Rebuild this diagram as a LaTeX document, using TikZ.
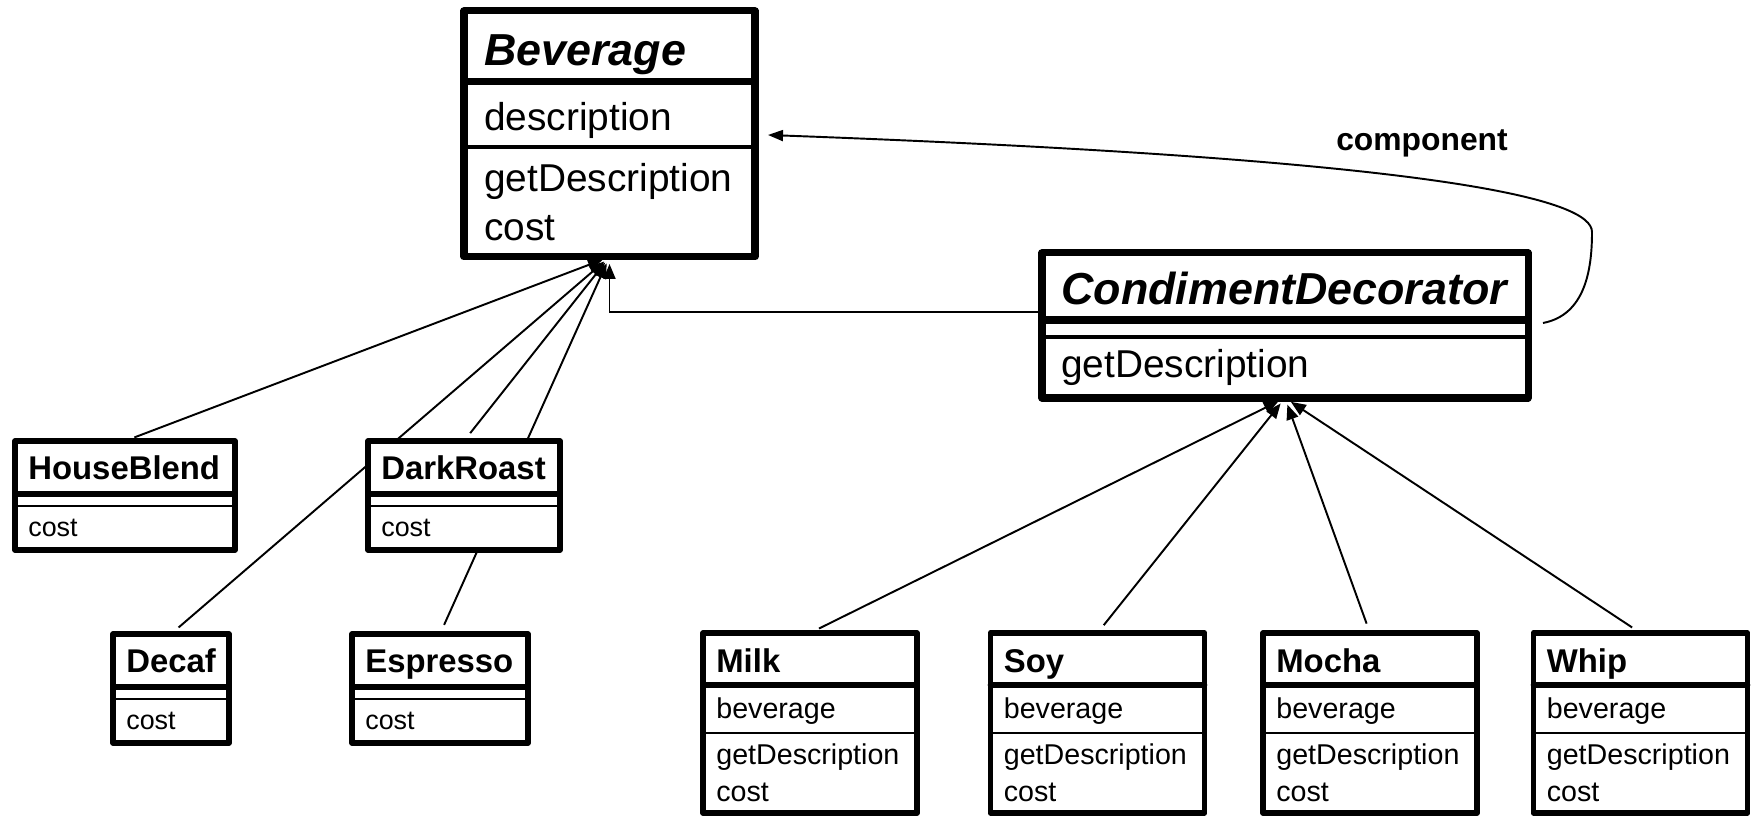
\documentclass[tikz,border=0pt]{standalone}
\usepackage{fontspec}
\setmainfont{Liberation Sans}
\usetikzlibrary{arrows.meta,backgrounds}

\begin{document}
\begin{tikzpicture}[line cap=round]
        % Styles
        \tikzstyle{big class}=[draw,fill=white,line width=4pt,line join=round,outer sep=0pt,anchor=north]
        \tikzstyle{small class}=[draw,fill=white,line width=3.2pt,line join=round,outer sep=0pt,anchor=north]
        \tikzstyle{big sep}=[line width=4pt]
        \tikzstyle{small sep}=[line width=3.2pt]
        \tikzstyle{thin sep}=[line width=1.8pt]
        \tikzstyle{small thin sep}=[line width=1.2pt]
        \tikzstyle{big name}=[anchor=base west,inner sep=0pt,font=\fontsize{25.5}{30}\selectfont\bfseries\itshape]
        \tikzstyle{big text}=[anchor=west,inner sep=0pt,align=left,font=\fontsize{22.1}{27.8}\selectfont]
        \tikzstyle{small name}=[anchor=base west,inner sep=0pt,font=\fontsize{18.7}{22}\selectfont\bfseries]
        \tikzstyle{small text}=[anchor=west,inner sep=0pt,align=left,font=\fontsize{16.3}{21}\selectfont]
        \tikzstyle{cost text}=[anchor=west,inner sep=0pt,font=\fontsize{15.3}{18}\selectfont]
        \tikzstyle{inherit}=[line width=1.1pt,-{Triangle[length=0.3cm,width=0.24cm]},shorten <=0.2cm,shorten >=0.14cm]
        \tikzstyle{assoc}=[line width=1.1pt,-{Triangle[length=0.3cm,width=0.22cm]}]
        \useasboundingbox (0,0) rectangle (35.12,16.32);
        %the component class
        \node[big class,minimum width=5.82cm,minimum height=4.92cm] (bev) at (12.19,16.10) {};
        \node[big name] (bev-name) at ([xshift=0.4cm,yshift=-1.10cm]bev.north west) {Beverage};
        \draw[big sep] ([yshift=-1.42cm]bev.north west) -- ([yshift=-1.42cm]bev.north east);
        \node[big text] (bev-attr) at ([xshift=0.4cm,yshift=-2.18cm]bev.north west) {description};
        \draw[thin sep] ([yshift=-2.72cm]bev.north west) -- ([yshift=-2.72cm]bev.north east);
        \node[big text] (bev-ops) at ([xshift=0.4cm,yshift=-3.82cm]bev.north west) {getDescription\\cost};
        %the decorator class
        \node[big class,minimum width=9.72cm,minimum height=2.90cm] (cd) at (25.70,11.26) {};
        \node[big name] (cd-name) at ([xshift=0.38cm,yshift=-1.03cm]cd.north west) {CondimentDecorator};
        \draw[big sep] ([yshift=-1.34cm]cd.north west) -- ([yshift=-1.34cm]cd.north east);
        \draw[thin sep] ([yshift=-1.68cm]cd.north west) -- ([yshift=-1.68cm]cd.north east);
        \node[big text] (cd-ops) at ([xshift=0.38cm,yshift=-2.29cm]cd.north west) {getDescription};
        %concrete components
        \foreach \n/\txt/\x/\y/\w in {hb/HouseBlend/2.50/7.50/4.40, dr/DarkRoast/9.28/7.50/3.84, dc/Decaf/3.42/3.64/2.32, es/Espresso/8.80/3.64/3.52}
        {
            \node[small class,minimum width=\w cm,minimum height=2.18cm] (\n) at (\x,\y) {};
            \node[small name] (\n-name) at ([xshift=0.26cm,yshift=-0.77cm]\n.north west) {\txt};
            \draw[small sep] ([yshift=-1.06cm]\n.north west) -- ([yshift=-1.06cm]\n.north east);
            \draw[small thin sep] ([yshift=-1.30cm]\n.north west) -- ([yshift=-1.30cm]\n.north east);
            \node[cost text] (\n-ops) at ([xshift=0.26cm,yshift=-1.74cm]\n.north west) {cost};
        }
        %concrete decorators
        \foreach \n/\txt/\x in {milk/Milk/16.20, soy/Soy/21.95, mocha/Mocha/27.40, whip/Whip/32.81}
        {
            \node[small class,minimum width=4.28cm,minimum height=3.60cm] (\n) at (\x,3.66) {};
            \node[small name] (\n-name) at ([xshift=0.26cm,yshift=-0.79cm]\n.north west) {\txt};
            \draw[small sep] ([yshift=-1.04cm]\n.north west) -- ([yshift=-1.04cm]\n.north east);
            \node[small text] (\n-attr) at ([xshift=0.26cm,yshift=-1.56cm]\n.north west) {beverage};
            \draw[small thin sep] ([yshift=-2.00cm]\n.north west) -- ([yshift=-2.00cm]\n.north east);
            \node[small text] (\n-ops) at ([xshift=0.26cm,yshift=-2.80cm]\n.north west) {getDescription\\cost};
        }
        \node[font=\fontsize{18.1}{22}\selectfont\bfseries] (comp-label) at (28.44,13.46) {component};
        %connectors
        \begin{scope}[on background layer]
            \foreach \n in {hb,dr,dc,es}
            \draw[inherit] (\n.north) -- (bev.south);
            \foreach \n in {milk,soy,mocha,whip}
            \draw[inherit] (\n.north) -- (cd.south);
            \draw[inherit,shorten <=0pt] ([yshift=-1.18cm]cd.north west) -| (bev.south);
            \draw[assoc] ([xshift=0.3cm,yshift=-1.40cm]cd.north east) .. controls (31.70,10.02) and (31.84,10.92) .. (31.84,11.68) .. controls (31.84,12.32) and (29.00,13.12) .. ([xshift=0.26cm,yshift=-2.48cm]bev.north east);
        \end{scope}
\end{tikzpicture}
\end{document}
